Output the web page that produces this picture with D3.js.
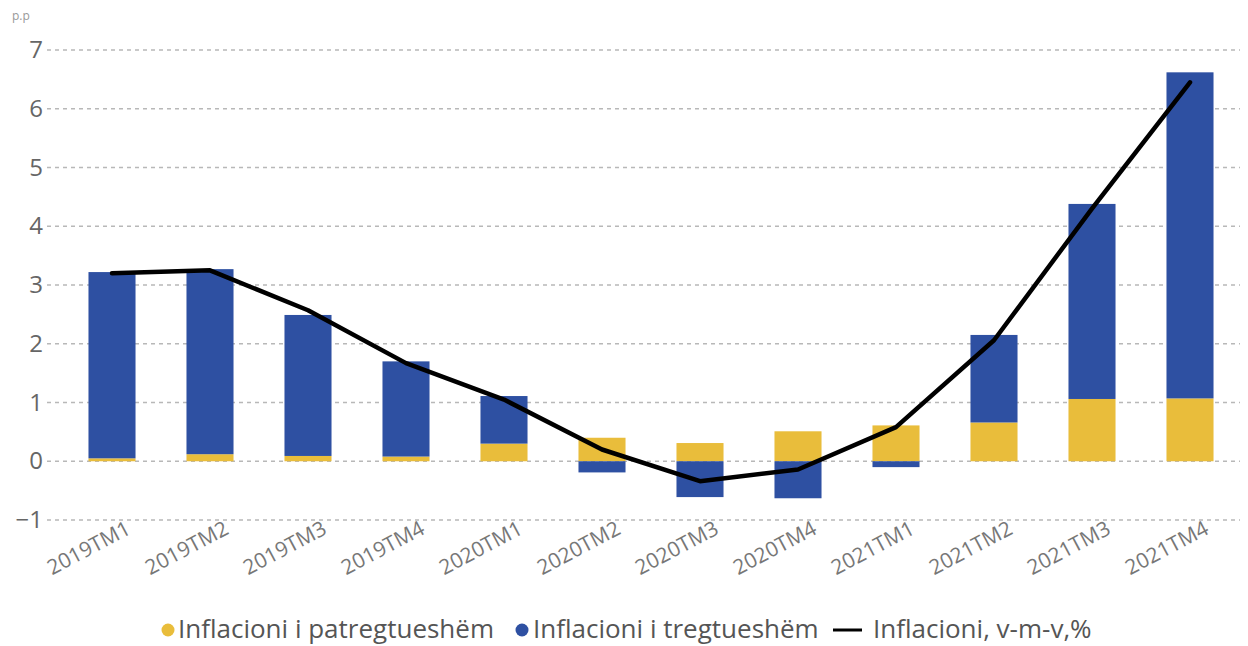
<!DOCTYPE html>
<html><head><meta charset="utf-8">
<script src="https://cdn.jsdelivr.net/npm/d3@7"></script>
<style>
body{margin:0;background:#fff;}
svg{display:block;font-family:"Open Sans","Noto Sans",sans-serif;}
</style></head>
<body><svg id="c" width="1248" height="646"></svg>
<script>
const categories = ["2019TM1","2019TM2","2019TM3","2019TM4","2020TM1","2020TM2","2020TM3","2020TM4","2021TM1","2021TM2","2021TM3","2021TM4"];
const nonTradable = [0.05,0.12,0.09,0.08,0.30,0.40,0.31,0.51,0.61,0.66,1.06,1.07];
const tradable = [3.17,3.15,2.40,1.62,0.81,-0.19,-0.61,-0.63,-0.10,1.49,3.32,5.55];
const inflation = [3.20,3.25,2.57,1.67,1.05,0.20,-0.34,-0.14,0.58,2.06,4.30,6.45];
const yTicks = [-1,0,1,2,3,4,5,6,7];
const seriesNames = ["Inflacioni i patregtueshëm","Inflacioni i tregtueshëm","Inflacioni, v-m-v,%"];
const colors = {yellow:"#E9BD3B", blue:"#2E50A2", line:"#000"};

const svg = d3.select("#c");
const x = d3.scaleBand().domain(categories).range([63,1239]).paddingInner(0.52).paddingOuter(0.26);
const y = d3.scaleLinear().domain([-1,7]).range([520,50]);
const left = 47, right = 1240;

// grid
svg.append("g").selectAll("line").data(yTicks).join("line")
  .attr("x1",left).attr("x2",right)
  .attr("y1",d=>y(d)).attr("y2",d=>y(d))
  .attr("stroke","#b8b8b8").attr("stroke-width",1.3).attr("stroke-dasharray","4,4");

// y axis labels
const yAxis = d3.axisLeft(y).tickValues(yTicks).tickSize(0).tickPadding(0);
const gy = svg.append("g").attr("transform",`translate(${left-4},0)`).call(yAxis);
gy.select(".domain").remove();
gy.selectAll("text").attr("font-size",24).attr("fill","#666").attr("font-family","Open Sans, sans-serif");

svg.append("text").attr("x",12).attr("y",20).text("p.p").attr("font-size",12).attr("fill","#999");

// bars
const bw = x.bandwidth();
function seg(v0,v1){return {y:y(Math.max(v0,v1)), h:Math.abs(y(v0)-y(v1))};}
const gb = svg.append("g");
categories.forEach((c,i)=>{
  const nt = nonTradable[i], t = tradable[i];
  let s = seg(0,nt);
  gb.append("rect").attr("x",x(c)).attr("width",bw).attr("y",s.y).attr("height",s.h).attr("fill",colors.yellow);
  let b0 = t>=0 ? nt : 0, b1 = b0 + t;
  s = seg(b0,b1);
  gb.append("rect").attr("x",x(c)).attr("width",bw).attr("y",s.y).attr("height",s.h).attr("fill",colors.blue);
});

// line
const line = d3.line().x((d,i)=>x(categories[i])+bw/2).y(d=>y(d));
svg.append("path").datum(inflation).attr("d",line).attr("fill","none")
  .attr("stroke",colors.line).attr("stroke-width",4.5).attr("stroke-linejoin","round").attr("stroke-linecap","round");

// x labels
svg.append("g").selectAll("text").data(categories).join("text")
  .attr("transform",d=>`translate(${x(d)+bw/2+20},${533}) rotate(-28)`)
  .attr("text-anchor","end").attr("font-size",21).attr("fill","#777")
  .text(d=>d);

// legend
const lg = svg.append("g").attr("font-size",26).attr("fill","#555");
lg.append("circle").attr("cx",168).attr("cy",630).attr("r",6.5).attr("fill",colors.yellow);
lg.append("text").attr("x",178).attr("y",638).text(seriesNames[0]);
lg.append("circle").attr("cx",522).attr("cy",630).attr("r",6.5).attr("fill",colors.blue);
lg.append("text").attr("x",533).attr("y",638).text(seriesNames[1]);
lg.append("line").attr("x1",833).attr("x2",862).attr("y1",630).attr("y2",630).attr("stroke","#000").attr("stroke-width",3);
lg.append("text").attr("x",873).attr("y",638).text(seriesNames[2]);
</script></body></html>
